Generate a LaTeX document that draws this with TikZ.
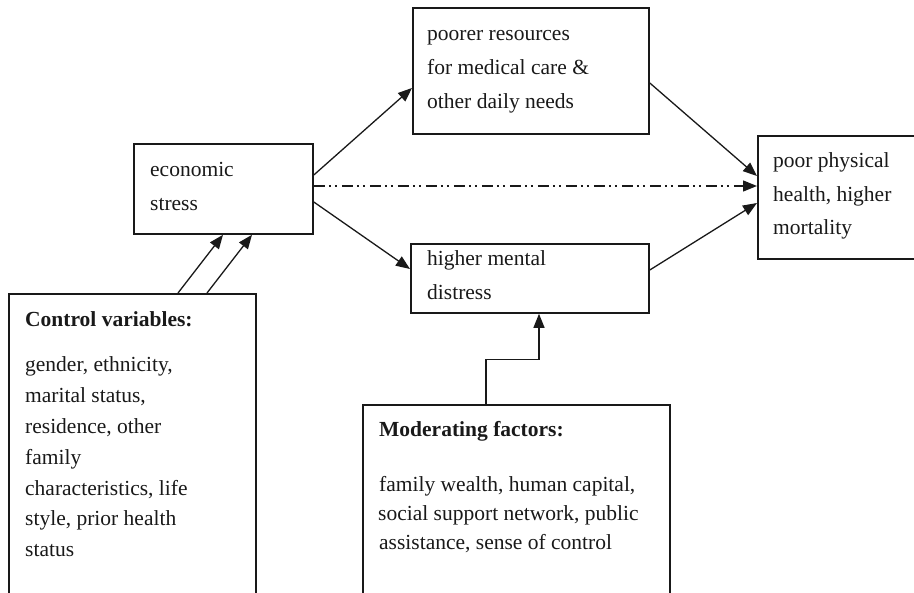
\documentclass[tikz,border=0pt]{standalone}
\usepackage{fontspec}
\setmainfont{Liberation Serif}
\usetikzlibrary{arrows.meta,calc}
\tikzset{
  box/.style={draw=black!90, line width=1.8pt, inner sep=0pt, anchor=north west},
  txt/.style={anchor=base west, inner sep=0pt, font=\fontsize{21.5}{26}\selectfont, text=black!90},
  btxt/.style={txt, font=\fontsize{21.5}{26}\selectfont\bfseries},
  arr/.style={draw=black!90, line width=1.3pt, -{Triangle[length=14pt,width=11pt]}},
  dashdotdot/.style={dash pattern=on 11pt off 4pt on 2pt off 4pt on 2pt off 5pt},
}
\begin{document}
\begin{tikzpicture}[x=1pt,y=-1pt]
\useasboundingbox (0,0) rectangle (914,593);
% boxes
\node[box, minimum width=179pt, minimum height=90pt] (econ) at (133,143) {};
\node[box, minimum width=236pt, minimum height=126pt] (poor) at (412,7) {};
\node[box, minimum width=170pt, minimum height=123pt] (health) at (757,135) {};
\node[box, minimum width=238pt, minimum height=69pt] (mental) at (410,243) {};
\node[box, minimum width=247pt, minimum height=320pt] (control) at (8,293) {};
\node[box, minimum width=307pt, minimum height=210pt] (moder) at (362,404) {};
% texts
\node[txt] (e1) at (150,177) {economic};
\node[txt] (e2) at (150,211) {stress};
\node[txt] (p1) at (427,41) {poorer resources};
\node[txt] (p2) at (427,75) {for medical care \&};
\node[txt] (p3) at (427,109) {other daily needs};
\node[txt] (h1) at (773,168) {poor physical};
\node[txt] (h2) at (773,202) {health, higher};
\node[txt] (h3) at (773,235) {mortality};
\node[txt] (m1) at (427,266) {higher mental};
\node[txt] (m2) at (427,300) {distress};
\node[btxt] (c0) at (25,327) {Control variables:};
\node[txt] (c1) at (25,372) {gender, ethnicity,};
\node[txt] (c2) at (25,402.8) {marital status,};
\node[txt] (c3) at (25,433.6) {residence, other};
\node[txt] (c4) at (25,464.4) {family};
\node[txt] (c5) at (25,495.2) {characteristics, life};
\node[txt] (c6) at (25,526) {style, prior health};
\node[txt] (c7) at (25,556.8) {status};
\node[btxt] (o0) at (379,437) {Moderating factors:};
\node[txt] (o1) at (379,492) {family wealth, human capital,};
\node[txt] (o2) at (378,521) {social support network, public};
\node[txt] (o3) at (379,550) {assistance, sense of control};
% connectors
\draw[arr] ($(econ.north east)+(0,32)$) -- ($(poor.north west)+(0,81)$);
\draw[arr, dashdotdot] ($(econ.north east)+(0,43)$) -- ($(health.north west)+(0,51)$);
\draw[arr] ($(econ.north east)+(0,59)$) -- ($(mental.north west)+(0,26)$);
\draw[arr] ($(poor.north east)+(0,76)$) -- ($(health.north west)+(0,41)$);
\draw[arr] ($(mental.north east)+(0,27)$) -- ($(health.north west)+(0,68)$);
\draw[arr] ($(control.north west)+(170,0)$) -- ($(econ.south west)+(90,0)$);
\draw[arr] ($(control.north west)+(199,0)$) -- ($(econ.south west)+(119,0)$);
\draw[arr] ($(moder.north west)+(124,0)$) |- ($(mental.south west)+(129,46)$) -- ($(mental.south west)+(129,0)$);
\end{tikzpicture}
\end{document}
